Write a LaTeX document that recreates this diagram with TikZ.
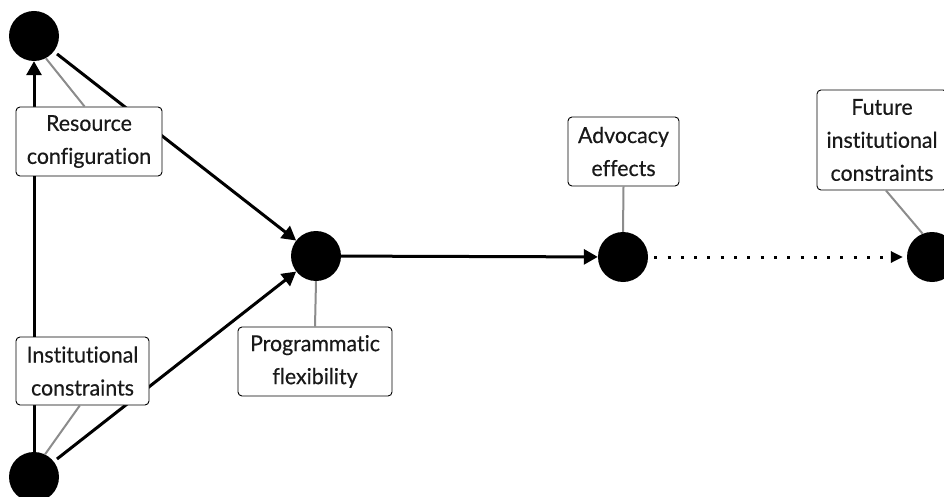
\documentclass[tikz,border=0pt]{standalone}
\usepackage{fontspec}
\setmainfont[FakeStretch=0.97,Ligatures=NoCommon,FakeBold=0.4]{Lato}
\usetikzlibrary{arrows.meta,calc}
\begin{document}
\begin{tikzpicture}[x=1pt,y=-1pt,
  dot/.style={circle,fill=black,inner sep=0pt,minimum size=50pt},
  flow/.style={line width=3pt,-{Triangle[length=14pt,width=15pt]}},
  dotflow/.style={line width=3pt,dash pattern=on 3pt off 10.3pt,-{Triangle[length=12pt,width=11pt]}},
  labbox/.style={draw=black,line width=0.9pt,rounded corners=4pt,fill=white,align=center,
    font=\fontsize{22}{33}\selectfont,text=black!90,inner sep=0pt},
  labline/.style={draw=black!45,line width=2pt}
]
\useasboundingbox[fill=white] (0,0) rectangle (944,497);
% circles
\node[dot] (tl) at (34,36) {};
\node[dot] (bl) at (34,477) {};
\node[dot] (p) at (316,256) {};
\node[dot] (a) at (623,257) {};
\node[dot] (f) at (932,257) {};
% black flows
\draw[flow] (bl) -- (tl);
\draw[flow,shorten <=4pt] (tl) -- (p);
\draw[flow,shorten <=4pt] (bl) -- (p);
\draw[flow] (p) -- (a);
\draw[dotflow,shorten <=6pt,shorten >=4pt] (a) -- (f);
% label boxes
\node[labbox,minimum width=146pt,minimum height=69pt] (rc) at (89,141.5) {Resource\\configuration};
\node[labbox,minimum width=133pt,minimum height=68pt] (ic) at (82.5,371) {Institutional\\constraints};
\node[labbox,minimum width=154pt,minimum height=69pt] (pf) at (315,361.5) {Programmatic\\flexibility};
\node[labbox,minimum width=111pt,minimum height=69pt] (ae) at (623.5,151.5) {Advocacy\\effects};
\node[labbox,minimum width=130pt,minimum height=100pt] (fi) at (882,140) {Future\\institutional\\constraints};
% label leaders
\draw[labline] (tl.-62) -- ($(rc.north west)!0.47!(rc.north east)$);
\draw[labline] (bl.64) -- ($(ic.south west)!0.48!(ic.south east)$);
\draw[labline] (p.south) -- (pf.north);
\draw[labline] (a.north) -- (ae.south);
\draw[labline] (f.112) -- ($(fi.south west)!0.53!(fi.south east)$);
\end{tikzpicture}
\end{document}
